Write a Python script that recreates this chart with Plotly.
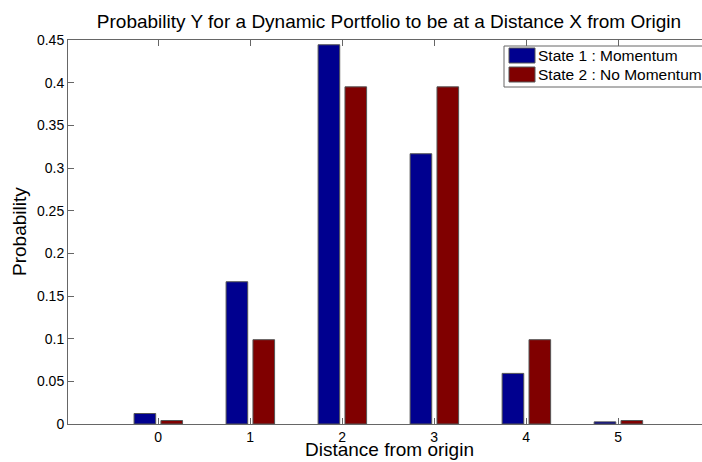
import plotly.graph_objects as go

distance = [0, 1, 2, 3, 4, 5]
state1 = [0.0123, 0.1667, 0.4444, 0.3167, 0.0593, 0.0025]
state2 = [0.0041, 0.0988, 0.3951, 0.3951, 0.0988, 0.0041]
series_names = ["State 1 : Momentum", "State 2 : No Momentum"]
series_colors = ["#00008F", "#800000"]
y_ticks = [0, 0.05, 0.1, 0.15, 0.2, 0.25, 0.3, 0.35, 0.4, 0.45]
y_tick_text = ["0", "0.05", "0.1", "0.15", "0.2", "0.25", "0.3", "0.35", "0.4", "0.45"]

W, H = 702, 462
L, R, T, B = 68, 702, 40, 424  # plot area in pixels
FONT = "Liberation Sans, Arial, sans-serif"
EDGE = "#555555"
AXC = "#666666"

fig = go.Figure()
offsets = [-0.262, 0.03]
for vals, name, col, off in zip([state1, state2], series_names, series_colors, offsets):
    fig.add_trace(go.Bar(
        x=distance, y=vals, name=name, width=0.235, offset=off,
        marker=dict(color=col, line=dict(color=EDGE, width=1)),
        showlegend=False,
    ))

def px_x(p):
    return (p - L) / (R - L)

def px_y(p):
    return (B - p) / (B - T)

# manual MATLAB-style legend (box runs past the right edge as in the original)
shapes = [dict(type="rect", xref="paper", yref="paper",
               x0=px_x(504), x1=px_x(780), y0=px_y(87), y1=px_y(46),
               line=dict(color=AXC, width=1), fillcolor="white", layer="above")]
annotations = []
for i, (name, col) in enumerate(zip(series_names, series_colors)):
    top = 48 + i * 19
    shapes.append(dict(type="rect", xref="paper", yref="paper",
                       x0=px_x(509), x1=px_x(535), y0=px_y(top + 15), y1=px_y(top),
                       line=dict(color=EDGE, width=1), fillcolor=col, layer="above"))
    annotations.append(dict(xref="paper", yref="paper", x=px_x(536), y=px_y(top + 7.5),
                            text=name, showarrow=False, xanchor="left", yanchor="middle",
                            font=dict(family=FONT, size=15.5, color="black")))

# axis titles
annotations.append(dict(xref="paper", yref="paper", x=px_x(389), y=px_y(462),
                        text="Distance from origin", showarrow=False,
                        xanchor="center", yanchor="bottom",
                        font=dict(family=FONT, size=19, color="black")))
annotations.append(dict(xref="paper", yref="paper", x=px_x(19), y=0.5,
                        text="Probability", showarrow=False, textangle=-90,
                        xanchor="center", yanchor="middle",
                        font=dict(family=FONT, size=19, color="black")))

fig.update_layout(
    width=W, height=H,
    margin=dict(l=L, r=W - R, t=T, b=H - B, pad=0),
    paper_bgcolor="white", plot_bgcolor="white",
    barmode="overlay",
    font=dict(family=FONT, size=14, color="black"),
    title=dict(text="Probability Y for a Dynamic Portfolio to be at a Distance X from Origin",
               x=389 / W, xref="container", xanchor="center",
               y=1 - 21.5 / H, yref="container", yanchor="middle",
               font=dict(family=FONT, size=19, color="black")),
    shapes=shapes, annotations=annotations,
    xaxis=dict(range=[-0.98, 5.91], tickvals=distance, ticktext=[str(d) for d in distance],
               ticks="inside", ticklen=6, tickcolor=AXC, showline=True,
               linecolor=AXC, linewidth=1, mirror="ticks", showgrid=False,
               zeroline=False, tickfont=dict(size=14)),
    yaxis=dict(range=[0, 0.45], tickvals=y_ticks, ticktext=y_tick_text,
               ticks="inside", ticklen=6, tickcolor=AXC, showline=True,
               linecolor=AXC, linewidth=1, mirror=False, showgrid=False,
               zeroline=False, tickfont=dict(size=14)),
)

# remove the browser's default 8px body margin so the figure sits at the window origin
fig.write_html("out.html",
               config={"displayModeBar": False},
               post_script="document.body.style.margin='0';document.body.style.overflow='hidden';")
